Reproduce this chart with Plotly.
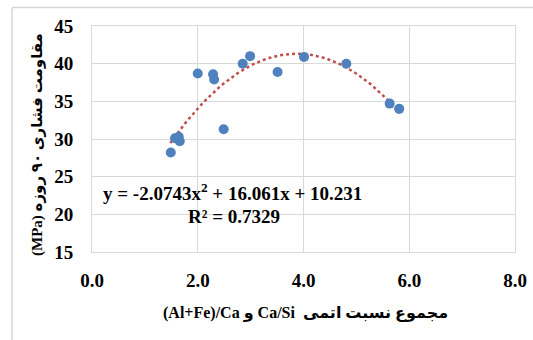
import plotly.graph_objects as go

# data
ratio_sum = [1.49, 1.57, 1.64, 1.66, 2.00, 2.29, 2.31, 2.49, 2.85, 2.99, 3.51, 4.01, 4.81, 5.63, 5.81]
strength = [28.2, 30.1, 30.3, 29.7, 38.7, 38.6, 37.9, 31.3, 40.0, 41.0, 38.9, 40.9, 40.0, 34.7, 34.0]

# polynomial trendline coefficients shown on the chart (a, b, c)
trend_coef = [-2.0743, 16.061, 10.231]
trend_range = [1.48, 5.82]

x_ticks = [0, 2, 4, 6, 8]
x_tick_text = ["0.0", "2.0", "4.0", "6.0", "8.0"]
y_ticks = [15, 20, 25, 30, 35, 40, 45]

eq_text = "y = -2.0743x<sup>2</sup> + 16.061x + 10.231"
r2_text = "R² = 0.7329"
x_title = "(Al+Fe)/Ca و Ca/Si  مجموع نسبت اتمی"
y_title = "(MPa) مقاومت فشاری ۹۰ روزه"

n = 80
tx = [trend_range[0] + (trend_range[1] - trend_range[0]) * i / (n - 1) for i in range(n)]
ty = [trend_coef[0] * v * v + trend_coef[1] * v + trend_coef[2] for v in tx]

FONT = "Liberation Serif"
AFONT = "Liberation Serif, DejaVu Sans"
GRID = "#D9D9D9"

L, R, T, B = 92, 18, 26, 88
PW, PH = 533 - L - R, 340 - T - B


def px_x(p):
    return (p - L) / PW


def px_y(p):
    return (340 - B - p) / PH


fig = go.Figure()
fig.add_trace(go.Scatter(x=tx, y=ty, mode="lines",
                         line=dict(color="#C0504D", width=2.5, dash="dot"),
                         hoverinfo="skip", showlegend=False))
fig.add_trace(go.Scatter(x=ratio_sum, y=strength, mode="markers",
                         marker=dict(color="#4F81BD", size=10),
                         showlegend=False))

fig.update_layout(
    width=533, height=340,
    margin=dict(l=L, r=R, t=T, b=B, autoexpand=False),
    paper_bgcolor="white", plot_bgcolor="white",
    font=dict(family=FONT, size=18, color="#000000"),
    xaxis=dict(range=[0, 8], tickvals=x_ticks, ticktext=x_tick_text, automargin=False,
               showgrid=True, gridcolor=GRID, gridwidth=1, zeroline=False,
               showline=True, linecolor=GRID, linewidth=1, mirror=True,
               tickfont=dict(family=FONT, size=19, color="#000", weight="bold"),
               ticks="", ticklabelstandoff=11),
    yaxis=dict(range=[15, 45], tickvals=y_ticks, automargin=False,
               showgrid=True, gridcolor=GRID, gridwidth=1, zeroline=False,
               showline=True, linecolor=GRID, linewidth=1, mirror=True,
               tickfont=dict(family=FONT, size=19, color="#000", weight="bold"),
               ticks="", ticklabelstandoff=14),
)

fig.add_annotation(x=2.65, y=23.0, xref="x", yref="y", text="<b>" + eq_text + "</b>",
                   xanchor="center", yanchor="middle",
                   showarrow=False, font=dict(family=FONT, size=19, color="#000"))
fig.add_annotation(x=2.69, y=19.7, xref="x", yref="y", text="<b>" + r2_text + "</b>",
                   xanchor="center", yanchor="middle",
                   showarrow=False, font=dict(family=FONT, size=19, color="#000"))
# axis titles
fig.add_annotation(x=px_x(305), y=px_y(313), xref="paper", yref="paper",
                   xanchor="center", yanchor="middle",
                   text="<b>" + x_title + "</b>", showarrow=False,
                   font=dict(family=AFONT, size=16, color="#000"))
fig.add_annotation(x=px_x(37), y=px_y(145), xref="paper", yref="paper",
                   xanchor="center", yanchor="middle",
                   text="<b>" + y_title + "</b>", showarrow=False, textangle=-90,
                   font=dict(family=AFONT, size=15, color="#000"))

# outer frame lines (top and left)
fig.add_shape(type="line", xref="paper", yref="paper", layer="above",
              x0=px_x(12), x1=px_x(533), y0=px_y(7.5), y1=px_y(7.5),
              line=dict(color="#D6D6D6", width=1.5))
fig.add_shape(type="line", xref="paper", yref="paper", layer="above",
              x0=px_x(12), x1=px_x(12), y0=px_y(7.5), y1=px_y(340),
              line=dict(color="#D6D6D6", width=1.5))

fig.write_html("out.html", config={"displayModeBar": False},
               post_script="document.body.style.margin='0';document.body.style.overflow='hidden';")
